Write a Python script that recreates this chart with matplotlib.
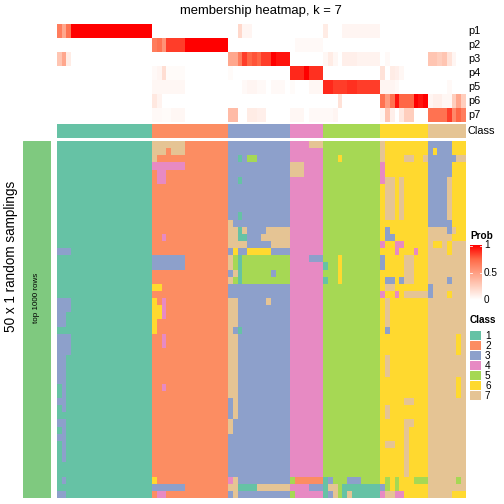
import numpy as np
import matplotlib
matplotlib.use("Agg")
import matplotlib.pyplot as plt
from matplotlib.colors import ListedColormap, LinearSegmentedColormap

plt.rcParams['font.family'] = ['Liberation Sans', 'DejaVu Sans']

# data ------------------------------------------------------------------------
# class of each sample (column), groups separated by spaces
col_class = "11111111111111111111 2222222222222222 3333333333333 4444444 555555555555 6666666666 77777777"

# membership probabilities p1..p7 per sample
p1 = [0.65, 0.45, 0.7] + [1.0]*17 + [0]*16 + [0, 0, 0.2, 0.05, 0.05] + [0]*8 + [0]*7 \
     + [0.1, 0, 0, 0] + [0.05]*8 + [0]*10 + [0]*8
p2 = [0]*20 + [0.65, 0.7, 0.55, 0.85, 0.85, 0.85, 0.85] + [1.0]*9 + [0]*13 \
     + [0, 0.03, 0.03, 0.03, 0.03, 0.03, 0.03] + [0]*12 + [0]*10 + [0]*8
p3 = [0.3, 0.45, 0.1] + [0]*17 + [0]*16 \
     + [0.45, 0.45, 0.65, 0.85, 0.75, 0.8, 0.75, 0.85, 0.85, 1.0, 0.95, 0.95, 0.95] + [0]*7 \
     + [0.04, 0.1, 0.04, 0, 0.08, 0.08, 0.08, 0.06, 0.06, 0.06, 0.06, 0.06] \
     + [0, 0.03, 0, 0, 0, 0, 0, 0, 0, 0] + [0.3, 0.3, 0.25, 0.3, 0.15, 0.05, 0, 0]
p4 = [0]*20 + [0.03, 0.05, 0.17, 0.02, 0.02, 0.02, 0.02] + [0]*9 + [0.02] + [0]*12 \
     + [0.9, 0.9, 0.9, 1.0, 0.88, 0.88, 0.88] + [0]*12 \
     + [0.15, 0, 0.1, 0.08, 0.04, 0, 0, 0, 0, 0] + [0]*8
p5 = [0]*20 + [0.04]*7 + [0]*9 + [0, 0, 0, 0.03, 0.05, 0.05, 0.03, 0.03, 0, 0.03, 0.03, 0.03, 0] \
     + [0.02, 0, 0, 0, 0.04, 0.04, 0.04] \
     + [0.9, 0.9, 0.85, 0.85, 0.85, 0.88, 0.88, 0.85, 0.85, 0.85, 0.85, 0.85] \
     + [0.05, 0.05, 0.05, 0.03, 0, 0, 0, 0, 0, 0] + [0, 0, 0, 0, 0.03, 0, 0, 0]
p6 = [0]*20 + [0.12, 0.06] + [0]*14 + [0]*13 + [0]*7 + [0, 0, 0, 0.15] + [0]*8 \
     + [0.7, 0.5, 0.7, 0.95, 0.75, 0.75, 0.75, 1.0, 0.95, 1.0] \
     + [0.05, 0.08, 0.08, 0.04, 0.04, 0.25, 0.45, 0.25]
p7 = [0]*20 + [0.03, 0.03, 0.02, 0.02, 0.04, 0.04, 0.04] + [0]*9 \
     + [0.35, 0.35, 0, 0, 0.1, 0.1, 0.08, 0.08, 0, 0, 0, 0, 0] \
     + [0.04, 0.04, 0.04, 0, 0.03, 0.03, 0.03] + [0.03, 0.03, 0.05] + [0]*9 \
     + [0.04, 0.3, 0.08, 0, 0.12, 0.25, 0.25, 0, 0, 0] \
     + [0.7, 0.7, 0.7, 0.7, 0.85, 0.6, 0.75, 0.65]
prob_labels = ["p1", "p2", "p3", "p4", "p5", "p6", "p7"]

# class calls of the 50 random samplings (rows) x samples (columns)
samplings = [
    "11111111111111111111 7777777222222222 3333333333333 4444777 555555555555 7666666666 33333666",
    "11111111111111111111 7772777222222222 3333333333333 4444444 555555555555 7666666666 36333666",
    "11111111111111111111 7222222222222222 3313553333333 4444444 555655555555 7666677667 33333377",
    "11111111111111111111 4444444222222222 3333333333333 7774444 555555555555 4666666666 33333666",
    "11111111111111111111 2442222222222222 3333333333333 7774444 555555555555 4666666666 33333666",
    "11111111111111111111 2442222222222222 3313333333333 4444444 555555555555 4776766666 33337666",
    "11111111111111111111 2222222222222222 3333333333333 4444444 555555555555 6776766666 33337666",
    "11111111111111111111 2222222222222222 3333333333333 4444444 555555555555 6776766666 33337666",
    "11111111111111111111 2222222222222222 3333333333333 4444444 555555555555 6776766666 33337666",
    "11111111111111111111 2222222222222222 3333333333333 4444444 555555555555 6776766666 33337666",
    "11111111111111111111 2222222222222222 3313333333333 4444444 555555555555 6776766666 33337666",
    "11111111111111111111 2222222222222222 7333333333333 4444444 555555555555 6666666666 33333666",
    "11111111111111111111 2222222222222222 7717333377777 4444444 555555555555 6366666666 77773766",
    "11111111111111111111 2242222222222222 7711333777777 4444444 555555555555 6336666666 77777666",
    "11111111111111111111 2222222222222222 7777333337777 4444444 555555555555 4664466666 76676777",
    "33311111111111111111 2222222222222222 3633666663333 4444444 555555555555 6664666466 77776777",
    "11111111111111111111 3333333222222222 7515555555555 4444333 555655555555 3666677666 77777777",
    "11111111111111111111 3333333222222222 7515555555555 4444444 155655555555 3666677666 77777777",
    "11111111111111111111 2222222222222222 3715555553555 4444444 555655555555 6666677666 77777777",
    "11111111111111111111 2222222222222222 7515555555555 4444444 155655555555 6336377666 77773777",
    "11111111111111111111 6622222222222222 3333333333333 4444444 555555555555 6776666666 37777777",
    "11111111111111111111 2222222222222222 3333333333333 4444444 555555555555 4664677777 37776777",
    "33311111111111111111 6242222222222222 7733333373333 4444444 555555555555 6766666666 77777777",
    "33311111111111111111 6642222222222222 7733333333333 4444444 555555555555 6766666666 77777777",
    "33111111111111111111 6642222222222222 7733333333333 4444444 555555555555 6766666666 77777777",
    "33111111111111111111 6222222222222222 7733333333333 4444444 555555555555 6766666666 77777777",
    "11111111111111111111 6222222222222222 7313333333333 4444444 555555555555 6366666666 77777777",
    "33311111111111111111 2242222222222222 7733333333333 4444444 555555555555 6666666666 77777767",
    "33311111111111111111 2242222222222222 7733333333333 4444444 555555555555 6666666666 77777767",
    "33311111111111111111 2222222222222222 7733333333333 4444444 555555555555 6666666666 77777767",
    "33111111111111111111 2222222222222222 7733333333333 4444444 555555555555 6766666666 77777777",
    "33111111111111111111 2222222222222222 7733333333333 4444444 555555555555 6766666666 77777777",
    "33111111111111111111 2222222222222222 7733333333333 4444444 555555555555 6766666666 77777777",
    "33111111111111111111 2222222222222222 7733333333333 4444444 555555555555 6666666666 77777767",
    "13111111111111111111 2242222222222222 7733333333333 4444444 555555555555 6666666666 77777767",
    "13111111111111111111 2222222222222222 7733333333333 4444444 555555555555 6666666666 77777767",
    "33111111111111111111 2222222222222222 3733333333333 4444444 555555555555 6666677666 77777777",
    "13111111111111111111 2222222222222222 3733333333333 4444444 555555555555 6766666666 77777777",
    "11111111111111111111 2222222222222222 3733333333333 4444444 555555555555 6766666666 77777777",
    "33111111111111111111 2222222222222222 7333333333333 4444444 555555555555 6666677666 77777777",
    "13111111111111111111 2222222222222222 7333333333333 4444444 555555555555 6666676666 77777777",
    "33111111111111111111 2222222222222222 3333333333333 4444444 555555555555 6666676666 77777777",
    "13111111111111111111 2222222222222222 3333333333333 4444444 555555555555 6776676666 77777777",
    "13111111111111111111 2222222222222222 3333333333333 4444444 555555555555 6666676666 77777777",
    "13111111111111111111 2222222222222222 3333333333333 4444444 555555555555 6666676666 77777777",
    "11111111111111111111 2222222222222222 3333333333333 4444444 555555555555 6666676666 77777777",
    "11111111111111111111 2222222222222222 3333333333333 4444444 555555555555 6666676666 77777777",
    "13111111111111111111 6222222222222222 4733333333333 5222222 135553335555 6565666555 77777757",
    "11111111111111111111 3333333222222222 7711117777777 4444333 177511111111 3565666666 77777777",
    "33111111111111111111 2442222222222222 3733333333333 5444444 137517111111 4774466666 77777666",
]

class_colors = ["#66C2A5", "#FC8D62", "#8DA0CB", "#E78AC3", "#A6D854", "#FFD92F", "#E5C494"]
class_names = ["1", "2", "3", "4", "5", "6", "7"]

# helpers ---------------------------------------------------------------------
W, H = 504, 504
fig = plt.figure(figsize=(W / 72, H / 72), dpi=72)

def px_axes(x0, y0, x1, y1):
    ax = fig.add_axes([x0 / W, 1 - y1 / H, (x1 - x0) / W, (y1 - y0) / H])
    ax.set_axis_off()
    return ax

def to_int(s):
    return [int(ch) - 1 for ch in s.replace(" ", "")]

class_cmap = ListedColormap(class_colors)
prob_cmap = LinearSegmentedColormap.from_list(
    "prob", [(0, "#FFFFFF"), (0.25, "#FFCFBE"), (0.5, "#FF9E82"), (0.75, "#FF6846"), (1, "#FF0000")])

classes = np.array(to_int(col_class))
P = np.array([p1, p2, p3, p4, p5, p6, p7])
M = np.array([to_int(r) for r in samplings])

x0, x1 = 57, 466

# probability rows
ax = px_axes(x0, 24, x1, 122)
ax.imshow(P, cmap=prob_cmap, vmin=0, vmax=1, aspect='auto', interpolation='nearest')
for i, lab in enumerate(prob_labels):
    fig.text(468 / W, 1 - (31 + 14 * i) / H, lab, fontsize=11, va='center', ha='left')

# class row
ax = px_axes(x0, 124, x1, 138)
ax.imshow(classes[None, :], cmap=class_cmap, vmin=-0.5, vmax=6.5, aspect='auto', interpolation='nearest')
fig.text(468 / W, 1 - 131 / H, "Class", fontsize=11, va='center', ha='left')

# main heatmap
ax = px_axes(x0, 141, x1, 498)
ax.imshow(M, cmap=class_cmap, vmin=-0.5, vmax=6.5, aspect='auto', interpolation='nearest')

# left annotation
ax = px_axes(23, 141, 51, 498)
ax.add_patch(plt.Rectangle((0, 0), 1, 1, color="#7FC97F"))
ax.set_xlim(0, 1)
ax.set_ylim(0, 1)
fig.text(37 / W, 1 - 298 / H, "top 1000 rows", rotation=90, fontsize=8, ha='center', va='center')
fig.text(11 / W, 1 - 256 / H, "50 x 1 random samplings", rotation=90, fontsize=13.5, ha='center', va='center')

# title
fig.text(261 / W, 1 - 11 / H, "membership heatmap, k = 7", fontsize=13, ha='center', va='center')

# Prob legend
fig.text(470 / W, 1 - 236 / H, "Prob", fontsize=10, fontweight='bold', ha='left', va='center')
ax = px_axes(470, 245, 482, 300)
grad = np.linspace(1, 0, 100)[:, None]
ax.imshow(grad, cmap=prob_cmap, vmin=0, vmax=1, aspect='auto', extent=(0, 1, 0, 1))
ax.set_xlim(0, 1)
ax.set_ylim(0, 1)
for v in [0.5, 0.985]:
    ax.plot([0, 0.2], [v, v], color='white', lw=0.8)
    ax.plot([0.8, 1], [v, v], color='white', lw=0.8)
for v, lab in [(1, "1"), (0.5, "0.5"), (0, "0")]:
    fig.text(484 / W, 1 - (300 - 55 * v) / H, lab, fontsize=10, ha='left', va='center')

# Class legend
fig.text(470 / W, 1 - 320 / H, "Class", fontsize=10, fontweight='bold', ha='left', va='center')
for i, (c, lab) in enumerate(zip(class_colors, class_names)):
    ax = px_axes(470, 331 + 10 * i, 481, 340 + 10 * i)
    ax.add_patch(plt.Rectangle((0, 0), 1, 1, color=c))
    ax.set_xlim(0, 1)
    ax.set_ylim(0, 1)
    fig.text(485 / W, 1 - (336 + 10 * i) / H, lab, fontsize=10, ha='left', va='center')

fig.savefig("out.png", dpi=72)
